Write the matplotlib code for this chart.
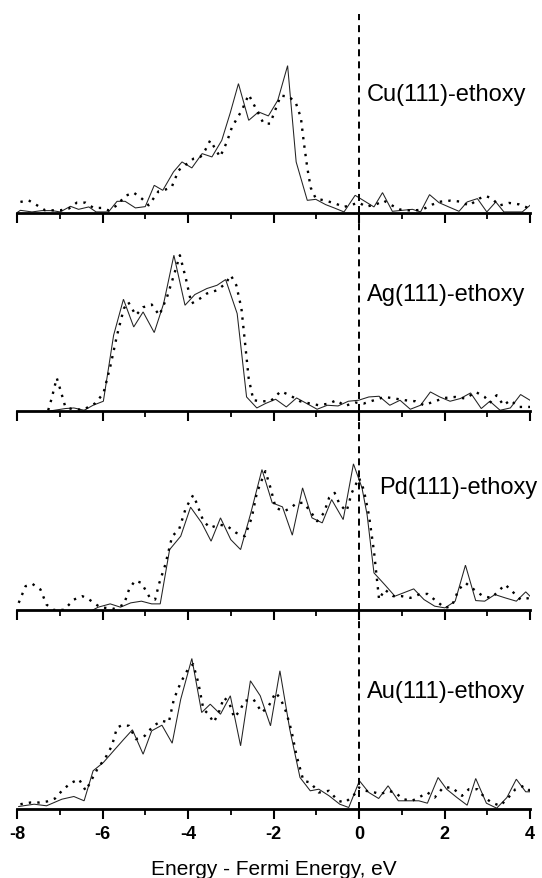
import matplotlib
matplotlib.use("Agg")
import matplotlib.pyplot as plt
from matplotlib.ticker import MultipleLocator
from matplotlib import font_manager

plt.rcParams['font.family'] = ['Liberation Sans', 'DejaVu Sans']
_names = {f.name for f in font_manager.fontManager.ttflist}
tick_family = 'Liberation Sans Narrow' if 'Liberation Sans Narrow' in _names else 'Liberation Sans'

panel_labels = ["Cu(111)-ethoxy", "Ag(111)-ethoxy", "Pd(111)-ethoxy", "Au(111)-ethoxy"]
label_x = [0.19, 0.19, 0.47, 0.19]
label_yfrac = [0.595, 0.592, 0.618, 0.594]

cu_solid_x = [-8.00, -7.92, -7.65, -7.42, -7.18, -6.99, -6.75, -6.56, -6.32, -6.15, -5.86, -5.66, -5.47, -5.23, -5.00,
              -4.79, -4.59, -4.34, -4.14, -3.91, -3.67, -3.44, -3.21, -3.01, -2.82, -2.58, -2.35, -2.12, -1.90, -1.67,
              -1.47, -1.21, -1.01, -0.78, -0.58, -0.35, -0.09, 0.16, 0.35, 0.55, 0.78, 1.01, 1.25, 1.44, 1.65, 1.87,
              2.10, 2.34, 2.53, 2.77, 2.99, 3.20, 3.39, 3.82, 4.00]
cu_solid_y = [0, 2.3, 0.7, 2, 2, 0.7, 6.3, 3.3, 5.7, 0.7, 0.7, 11.3, 11.3, 4.7, 6, 27.3, 22.3, 40.7, 50.7, 44.7, 59,
              55.7, 72.3, 100, 129, 92.3, 100.7, 96.7, 112.3, 147, 50.7, 12.3, 13.3, 8, 4.7, 0.7, 17.3, 10.7, 5.7, 20,
              1.3, 2.3, 3.3, 0.7, 18, 10, 5.7, 1.3, 10.7, 14, 0.7, 10.7, 0.7, 0.7, 7.3]
cu_dot_x = [-7.92, -7.73, -7.53, -7.34, -6.99, -6.79, -6.60, -6.40, -6.21, -6.01, -5.86, -5.66, -5.47, -5.27, -5.08,
            -4.92, -4.69, -4.57, -4.38, -4.22, -4.02, -3.87, -3.71, -3.60, -3.48, -3.25, -3.09, -2.97, -2.74, -2.58,
            -2.39, -2.23, -2.08, -1.83, -1.64, -1.48, -1.36, -1.29, -1.21, -1.13, -1.01, -0.78, -0.55, -0.35, -0.16,
            0.0, 0.16, 0.39, 0.58, 0.78, 0.97, 1.25, 1.48, 1.71, 1.91, 2.14, 2.38, 2.57, 2.81, 2.96, 3.12, 3.27, 3.51,
            3.74, 3.94]
cu_dot_y = [10.7, 12.3, 7.3, 2.3, 2.3, 4, 10, 10, 4.7, 4.7, 2.3, 7.3, 16.7, 20, 14, 7.3, 21.3, 22.3, 25.7, 42.3, 49,
            54, 55.7, 62.3, 72.3, 55.7, 70.7, 85.7, 102.3, 118, 102.3, 89, 89, 117, 116, 110, 95, 70, 45, 25, 14, 12,
            9, 5.7, 8, 10, 6, 8, 12, 7, 3, 2, 3, 8, 11, 12, 11, 7, 14, 16.7, 14, 7, 9.7, 8.3, 5]

ag_solid_x = [-7.27, -6.87, -6.67, -6.43, -6.22, -5.98, -5.74, -5.51, -5.27, -5.05, -4.79, -4.57, -4.33, -4.07, -3.84,
              -3.56, -3.32, -3.12, -2.85, -2.63, -2.39, -2.19, -1.95, -1.70, -1.46, -1.22, -0.98, -0.74, -0.49, -0.25,
              -0.01, 0.23, 0.47, 0.72, 0.96, 1.20, 1.44, 1.67, 1.89, 2.13, 2.37, 2.61, 2.86, 3.06, 3.30, 3.54, 3.78,
              4.00]
ag_solid_y = [0, 2.7, 3.3, 1, 6, 10, 76, 112, 84.3, 99.3, 78.7, 107.7, 156, 106, 116.7, 122.7, 126, 131.7, 97.7, 14.3,
              3.3, 7.7, 12, 4.3, 13.3, 7.7, 2, 6, 5.3, 10, 11, 14.3, 15, 6, 11, 2, 6, 19.3, 14.3, 10, 12.7, 18.3, 2.7,
              10, 1, 3.3, 16.7, 11]
ag_dot_x = [-7.27, -7.19, -7.07, -6.97, -6.87, -6.70, -6.45, -6.18, -5.98, -5.82, -5.66, -5.50, -5.40, -5.22, -5.05,
            -4.85, -4.67, -4.49, -4.33, -4.19, -4.05, -3.92, -3.72, -3.56, -3.32, -3.12, -3.00, -2.87, -2.75, -2.66,
            -2.58, -2.47, -2.27, -2.07, -1.83, -1.62, -1.38, -1.14, -0.94, -0.70, -0.53, -0.33, -0.09, 0.11, 0.35,
            0.60, 0.84, 1.08, 1.32, 1.52, 1.77, 2.01, 2.25, 2.49, 2.73, 2.94, 3.06, 3.22, 3.38, 3.54, 3.74, 4.00]
ag_dot_y = [1, 12.7, 33.3, 19.3, 4.3, 2, 1.5, 7.7, 17.7, 44.3, 76, 102.7, 109.3, 96, 104, 106.7, 96, 114.3, 136, 156,
            132.7, 107.7, 112.7, 117.7, 121, 127.7, 136, 126, 102.7, 66, 32.7, 11, 10, 10, 20, 16, 10, 7.7, 6, 7.7,
            11, 5.3, 8.7, 7.7, 11, 14.3, 12.7, 11, 10, 6, 10, 13.3, 14.3, 12.7, 19.3, 14.3, 8.3, 16, 6, 11, 4.3, 4.3]

pd_solid_x = [-6.22, -6.10, -5.82, -5.58, -5.34, -5.09, -4.85, -4.65, -4.43, -4.17, -3.94, -3.68, -3.46, -3.24, -3.00,
              -2.77, -2.53, -2.27, -2.03, -1.79, -1.56, -1.32, -1.10, -0.86, -0.64, -0.37, -0.13, 0.07, 0.19, 0.35,
              0.60, 0.84, 1.04, 1.28, 1.52, 1.77, 2.01, 2.25, 2.49, 2.73, 2.94, 3.18, 3.42, 3.68, 3.90, 4.00]
pd_solid_y = [0, 2.7, 6, 2.7, 7, 8.7, 6, 6, 60.3, 73.7, 102.7, 87, 68.7, 92, 70.3, 60.3, 97, 140.3, 107, 103, 74.7,
              122, 92, 87, 110.3, 90.3, 146, 122, 95, 37, 25.3, 13.7, 17, 21, 10.3, 3.7, 2, 8.7, 44.7, 9.3, 8.7, 15.3,
              12, 8.7, 18, 13.7]
pd_dot_x = [-7.96, -7.80, -7.64, -7.45, -7.31, -7.15, -6.90, -6.67, -6.47, -6.31, -6.06, -5.75, -5.50, -5.38, -5.24,
            -5.09, -4.89, -4.77, -4.67, -4.53, -4.37, -4.21, -4.05, -3.88, -3.80, -3.64, -3.48, -3.28, -3.08, -2.87,
            -2.67, -2.51, -2.39, -2.27, -2.19, -2.07, -1.95, -1.75, -1.59, -1.46, -1.30, -1.14, -0.98, -0.82, -0.70,
            -0.57, -0.45, -0.29, -0.17, 0.0, 0.11, 0.23, 0.35, 0.47, 0.60, 0.80, 1.00, 1.20, 1.40, 1.60, 1.81, 2.01,
            2.17, 2.33, 2.49, 2.69, 2.90, 3.10, 3.26, 3.42, 3.62, 3.78, 4.00]
pd_dot_y = [7, 23.7, 26, 20.3, 5.3, 0, 0, 10.3, 13.7, 10.3, 2.7, 1, 5.3, 20.3, 29.3, 27, 12, 10.3, 27, 45.3, 73.7,
            80.3, 102, 114.7, 107, 88.7, 82, 85.3, 83.7, 77, 73.7, 92, 117, 130.3, 138.7, 122, 102, 98.7, 102, 107,
            107, 98.7, 88.7, 97, 112, 117, 105.3, 98.7, 117, 132, 120.3, 95.3, 58.7, 10.3, 20.3, 13.7, 13.7, 12,
            15.3, 16, 8.7, 2, 3.7, 20.3, 27, 20.3, 13.7, 12, 18.7, 25.3, 17, 10.3, 12]

au_solid_x = [-7.96, -7.60, -7.31, -6.95, -6.67, -6.43, -6.22, -5.98, -5.74, -5.50, -5.30, -5.05, -4.85, -4.61, -4.37,
              -4.17, -3.91, -3.68, -3.48, -3.24, -3.01, -2.77, -2.54, -2.31, -2.07, -1.85, -1.62, -1.38, -1.14, -0.94,
              -0.70, -0.45, -0.24, 0.01, 0.23, 0.46, 0.68, 0.92, 1.16, 1.40, 1.60, 1.85, 2.05, 2.29, 2.53, 2.73, 2.98,
              3.22, 3.46, 3.68, 3.90, 4.00]
au_solid_y = [2, 4.3, 2.7, 9.3, 12, 7.7, 37.7, 46, 57.7, 69.3, 78.7, 54.3, 77.7, 83.3, 65.3, 109.3, 150, 96, 104.3,
              94.3, 112.7, 62.7, 127.7, 112.7, 82.7, 137.7, 79.3, 31, 17.7, 19.3, 12.7, 4.3, 1, 27.7, 16, 10, 22.7,
              7.7, 7.7, 7.7, 5.3, 31, 19.3, 11, 3.3, 30, 5.3, 0.3, 11, 29.3, 16.7, 16.7]
au_dot_x = [-7.92, -7.68, -7.48, -7.30, -7.11, -6.95, -6.75, -6.55, -6.39, -6.29, -6.10, -5.94, -5.78, -5.66, -5.54,
            -5.38, -5.22, -5.01, -4.81, -4.61, -4.45, -4.33, -4.17, -4.00, -3.88, -3.76, -3.64, -3.52, -3.40, -3.28,
            -3.16, -3.04, -2.92, -2.80, -2.67, -2.47, -2.27, -2.11, -1.95, -1.83, -1.70, -1.58, -1.46, -1.30, -1.14,
            -0.94, -0.70, -0.49, -0.33, -0.13, 0.0, 0.15, 0.31, 0.51, 0.68, 0.84, 1.04, 1.24, 1.40, 1.60, 1.77, 1.97,
            2.17, 2.41, 2.57, 2.77, 2.94, 3.10, 3.30, 3.46, 3.66, 3.86, 4.00]
au_dot_y = [4.3, 6, 6, 7, 10, 17.7, 25.3, 29.3, 17.7, 26, 41, 50, 62.7, 81, 83.3, 82.7, 69.3, 72.7, 82.7, 87.7, 86,
            109.3, 126, 139.3, 144.3, 126, 99.3, 94.3, 86, 96, 111, 106, 91, 97, 107.7, 109.3, 96, 102.7, 116, 109.3,
            96, 77.7, 52.7, 27.7, 26, 16, 17.7, 7.7, 6, 12.7, 21, 17.7, 16.7, 14.3, 17.7, 16, 9.3, 7.7, 11, 16, 11,
            21, 21, 12.7, 19.3, 19.3, 11, 6, 2.7, 9.3, 19.3, 22.7, 17.7]

x_ticks = [-8, -6, -4, -2, 0, 2, 4]
x_label = "Energy - Fermi Energy, eV"

solids = [(cu_solid_x, cu_solid_y), (ag_solid_x, ag_solid_y), (pd_solid_x, pd_solid_y), (au_solid_x, au_solid_y)]
dots = [(cu_dot_x, cu_dot_y), (ag_dot_x, ag_dot_y), (pd_dot_x, pd_dot_y), (au_dot_x, au_dot_y)]

W, H = 542, 879
fig = plt.figure(figsize=(W / 100, H / 100), dpi=100)
left_px, right_px = 17, 530
top_px, bottom_px = 15, 809.5
ph = (bottom_px - top_px) / 4

for i in range(4):
    top = top_px + i * ph
    ax = fig.add_axes([left_px / W, 1 - (top + ph) / H, (right_px - left_px) / W, ph / H])
    sx, sy = solids[i]
    dx, dy = dots[i]
    ax.plot(sx, sy, color='#222222', lw=0.75, solid_joinstyle='miter')
    ax.plot(dx, dy, color='black', lw=1.7, linestyle=(0, (1.0, 2.6)))
    ax.axvline(0, color='black', lw=1.4, linestyle=(0, (3.6, 2.6)))
    ax.set_xlim(-8, 4)
    ax.set_ylim(0, ph)
    for s in ['top', 'left', 'right']:
        ax.spines[s].set_visible(False)
    ax.spines['bottom'].set_linewidth(2.0)
    ax.spines['bottom'].set_capstyle('projecting')
    ax.set_yticks([])
    ax.set_xticks(x_ticks)
    ax.xaxis.set_minor_locator(MultipleLocator(1))
    ax.tick_params(axis='x', which='major', direction='out', length=7.5, width=1.5, pad=4.5)
    ax.tick_params(axis='x', which='minor', direction='out', length=4.6, width=1.3)
    if i < 3:
        ax.set_xticklabels([])
    else:
        ax.set_xticklabels([str(t) for t in x_ticks], fontsize=13, fontweight='bold', family=tick_family)
        ax.set_xlabel(x_label, fontsize=15, labelpad=12)
    ax.text(label_x[i], label_yfrac[i], panel_labels[i], transform=ax.get_xaxis_transform(),
            fontsize=17, ha='left', va='center', clip_on=False)
    ax.patch.set_visible(False)

fig.savefig("out.png", dpi=100)
